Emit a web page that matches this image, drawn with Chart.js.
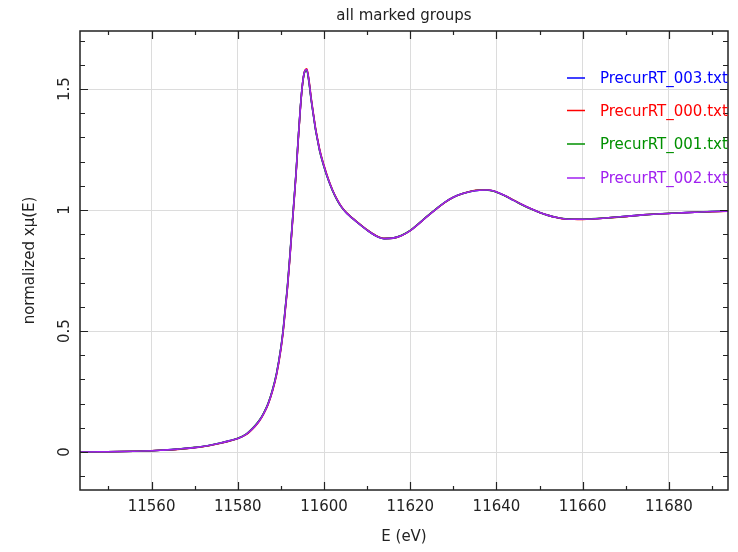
<!DOCTYPE html>
<html>
<head>
<meta charset="utf-8">
<title>all marked groups</title>
<script src="https://cdn.jsdelivr.net/npm/chart.js@4.4.0/dist/chart.umd.min.js"></script>
<style>
  body { margin: 0; background: #fff; }
  canvas { display: block; }
</style>
</head>
<body>
<canvas id="myChart" width="738" height="552"></canvas>
<script>
// energy grid (eV)
var energy = [11543, 11548, 11553, 11558, 11562, 11566, 11570, 11573, 11576, 11578,
  11580, 11582, 11584, 11585, 11586, 11587, 11588, 11589, 11590, 11590.5,
  11591, 11591.5, 11592, 11592.5, 11593, 11593.5, 11594, 11594.5, 11595, 11595.5,
  11596, 11596.5, 11597, 11597.5, 11598, 11598.5, 11599, 11600, 11601, 11602,
  11603, 11604, 11605, 11606, 11608, 11610, 11612, 11614, 11616, 11618,
  11620, 11622, 11624, 11626, 11628, 11630, 11632, 11634, 11636, 11638,
  11640, 11642, 11644, 11646, 11648, 11650, 11652, 11654, 11656, 11658,
  11660, 11663, 11666, 11670, 11674, 11678, 11682, 11686, 11690, 11694];

// normalized mu(E) for each group
var mu003 = [0.000, 0.001, 0.002, 0.004, 0.007, 0.012, 0.018, 0.026, 0.037, 0.046,
  0.056, 0.074, 0.108, 0.130, 0.160, 0.198, 0.252, 0.325, 0.430, 0.500,
  0.590, 0.680, 0.790, 0.910, 1.030, 1.150, 1.290, 1.420, 1.520, 1.572,
  1.580, 1.532, 1.460, 1.398, 1.338, 1.290, 1.245, 1.180, 1.125, 1.080,
  1.043, 1.014, 0.992, 0.975, 0.945, 0.917, 0.894, 0.882, 0.884, 0.895,
  0.915, 0.944, 0.975, 1.004, 1.032, 1.053, 1.067, 1.077, 1.082, 1.083,
  1.075, 1.059, 1.040, 1.022, 1.005, 0.990, 0.978, 0.969, 0.963, 0.962,
  0.962, 0.964, 0.968, 0.974, 0.980, 0.985, 0.988, 0.991, 0.994, 0.995];

var mu000 = [0.000, 0.001, 0.002, 0.004, 0.007, 0.011, 0.018, 0.025, 0.036, 0.045,
  0.056, 0.073, 0.106, 0.128, 0.158, 0.196, 0.249, 0.320, 0.424, 0.494,
  0.583, 0.674, 0.783, 0.903, 1.024, 1.146, 1.284, 1.416, 1.518, 1.574,
  1.584, 1.538, 1.466, 1.403, 1.342, 1.294, 1.249, 1.184, 1.128, 1.082,
  1.045, 1.015, 0.993, 0.976, 0.946, 0.918, 0.895, 0.883, 0.884, 0.895,
  0.915, 0.944, 0.975, 1.004, 1.031, 1.053, 1.067, 1.078, 1.083, 1.083,
  1.075, 1.059, 1.041, 1.022, 1.005, 0.990, 0.978, 0.969, 0.963, 0.962,
  0.961, 0.964, 0.968, 0.973, 0.980, 0.985, 0.988, 0.991, 0.993, 0.995];

var mu001 = [0.000, 0.001, 0.002, 0.004, 0.007, 0.012, 0.019, 0.026, 0.037, 0.046,
  0.057, 0.075, 0.109, 0.131, 0.161, 0.199, 0.254, 0.327, 0.433, 0.503,
  0.594, 0.684, 0.794, 0.913, 1.033, 1.153, 1.292, 1.421, 1.519, 1.570,
  1.577, 1.529, 1.457, 1.396, 1.336, 1.288, 1.243, 1.178, 1.124, 1.079,
  1.042, 1.013, 0.992, 0.975, 0.945, 0.917, 0.894, 0.882, 0.884, 0.896,
  0.916, 0.945, 0.976, 1.005, 1.032, 1.053, 1.067, 1.077, 1.082, 1.082,
  1.074, 1.058, 1.040, 1.021, 1.004, 0.990, 0.978, 0.969, 0.964, 0.962,
  0.962, 0.965, 0.968, 0.974, 0.980, 0.985, 0.989, 0.991, 0.994, 0.996];

var mu002 = [0.000, 0.001, 0.002, 0.004, 0.007, 0.012, 0.018, 0.026, 0.037, 0.046,
  0.056, 0.074, 0.107, 0.129, 0.159, 0.197, 0.251, 0.323, 0.428, 0.498,
  0.588, 0.678, 0.788, 0.908, 1.028, 1.149, 1.288, 1.419, 1.520, 1.573,
  1.581, 1.534, 1.462, 1.399, 1.339, 1.291, 1.246, 1.181, 1.126, 1.081,
  1.044, 1.014, 0.992, 0.975, 0.945, 0.917, 0.894, 0.882, 0.884, 0.895,
  0.915, 0.944, 0.975, 1.004, 1.032, 1.053, 1.067, 1.077, 1.082, 1.083,
  1.075, 1.059, 1.040, 1.022, 1.005, 0.990, 0.978, 0.969, 0.963, 0.962,
  0.962, 0.964, 0.968, 0.974, 0.980, 0.985, 0.988, 0.991, 0.994, 0.995];

var groupNames = ["PrecurRT_003.txt", "PrecurRT_000.txt", "PrecurRT_001.txt", "PrecurRT_002.txt"];
var groupColors = ["#0000ff", "#ff0000", "#009000", "#a020f0"];

// axis ticks
var xTicks = [11560, 11580, 11600, 11620, 11640, 11660, 11680];
var yTicks = [0, 0.5, 1, 1.5];
var yTickLabels = ["0", "0.5", "1", "1.5"];

var FONT = '15px "DejaVu Sans", sans-serif';
var TEXT_COLOR = "#222";

function toPoints(values) {
  return energy.map(function (e, i) { return { x: e, y: values[i] }; });
}

// frame, inward ticks, labels, titles and legend
var framePlugin = {
  id: "frame",
  afterDraw: function (chart) {
    var ctx = chart.ctx;
    var a = chart.chartArea;
    var xs = chart.scales.x;
    var ys = chart.scales.y;
    var i, p, v;

    ctx.save();
    ctx.strokeStyle = "#222";
    ctx.lineWidth = 1.5;
    ctx.strokeRect(a.left, a.top, a.right - a.left, a.bottom - a.top);

    // x ticks: major every 20, minor every 10
    ctx.lineWidth = 1.2;
    ctx.beginPath();
    for (v = 11550; v <= 11690; v += 10) {
      p = Math.round(xs.getPixelForValue(v)) + 0.5;
      var len = (v % 20 === 0) ? 8 : 4;
      ctx.moveTo(p, a.bottom); ctx.lineTo(p, a.bottom - len);
      ctx.moveTo(p, a.top); ctx.lineTo(p, a.top + len);
    }
    // y ticks: major every 0.5, minor every 0.1
    for (i = -1; i <= 17; i++) {
      v = i / 10;
      p = Math.round(ys.getPixelForValue(v)) + 0.5;
      var ylen = (i % 5 === 0) ? 8 : 5;
      ctx.moveTo(a.left, p); ctx.lineTo(a.left + ylen, p);
      ctx.moveTo(a.right, p); ctx.lineTo(a.right - ylen, p);
    }
    ctx.stroke();

    ctx.fillStyle = TEXT_COLOR;
    ctx.font = FONT;
    ctx.textAlign = "center";
    ctx.textBaseline = "middle";

    xTicks.forEach(function (t) {
      ctx.fillText(String(t), xs.getPixelForValue(t), 507);
    });
    yTicks.forEach(function (t, k) {
      ctx.save();
      ctx.translate(65, ys.getPixelForValue(t));
      ctx.rotate(-Math.PI / 2);
      ctx.fillText(yTickLabels[k], 0, 0);
      ctx.restore();
    });

    // titles
    var midX = (a.left + a.right) / 2;
    ctx.fillText("all marked groups", midX, 16);
    ctx.fillText("E (eV)", midX, 537);
    ctx.save();
    ctx.translate(30, (a.top + a.bottom) / 2);
    ctx.rotate(-Math.PI / 2);
    ctx.fillText("normalized x\u03bc(E)", 0, 0);
    ctx.restore();

    // legend, clipped at the right edge of the plot
    ctx.beginPath();
    ctx.rect(a.left, a.top, a.right - a.left, a.bottom - a.top);
    ctx.clip();
    var legendY = [79.5, 112, 145.5, 179.5];
    ctx.textAlign = "left";
    ctx.lineWidth = 1.5;
    groupNames.forEach(function (name, k) {
      ctx.strokeStyle = groupColors[k];
      ctx.fillStyle = groupColors[k];
      ctx.beginPath();
      ctx.moveTo(567, legendY[k] - 1.5);
      ctx.lineTo(585, legendY[k] - 1.5);
      ctx.stroke();
      ctx.fillText(name, 600, legendY[k]);
    });
    ctx.restore();
  }
};

var seriesValues = [mu003, mu000, mu001, mu002];
var drawOrder = [3, 2, 1, 0];

var ctx = document.getElementById("myChart").getContext("2d");
var myChart = new Chart(ctx, {
  type: "line",
  data: {
    datasets: seriesValues.map(function (vals, k) {
      return {
        label: groupNames[k],
        data: toPoints(vals),
        borderColor: groupColors[k],
        borderWidth: 1.6,
        pointRadius: 0,
        fill: false,
        cubicInterpolationMode: "monotone",
        order: drawOrder[k]
      };
    })
  },
  options: {
    responsive: false,
    animation: false,
    devicePixelRatio: 1,
    layout: {
      padding: { left: 80, top: 31, right: 10, bottom: 62 }
    },
    plugins: {
      legend: { display: false },
      tooltip: { enabled: false },
      title: { display: false }
    },
    scales: {
      x: {
        type: "linear",
        min: 11543.4,
        max: 11693.7,
        afterBuildTicks: function (scale) {
          scale.ticks = xTicks.map(function (t) { return { value: t }; });
        },
        afterFit: function (scale) { scale.height = 0; },
        grid: { color: "#dcdcdc", lineWidth: 1, drawTicks: false },
        border: { display: false },
        ticks: { display: false }
      },
      y: {
        type: "linear",
        min: -0.157,
        max: 1.74,
        afterBuildTicks: function (scale) {
          scale.ticks = yTicks.map(function (t) { return { value: t }; });
        },
        afterFit: function (scale) { scale.width = 0; },
        grid: { color: "#dcdcdc", lineWidth: 1, drawTicks: false },
        border: { display: false },
        ticks: { display: false }
      }
    }
  },
  plugins: [framePlugin]
});
</script>
</body>
</html>
